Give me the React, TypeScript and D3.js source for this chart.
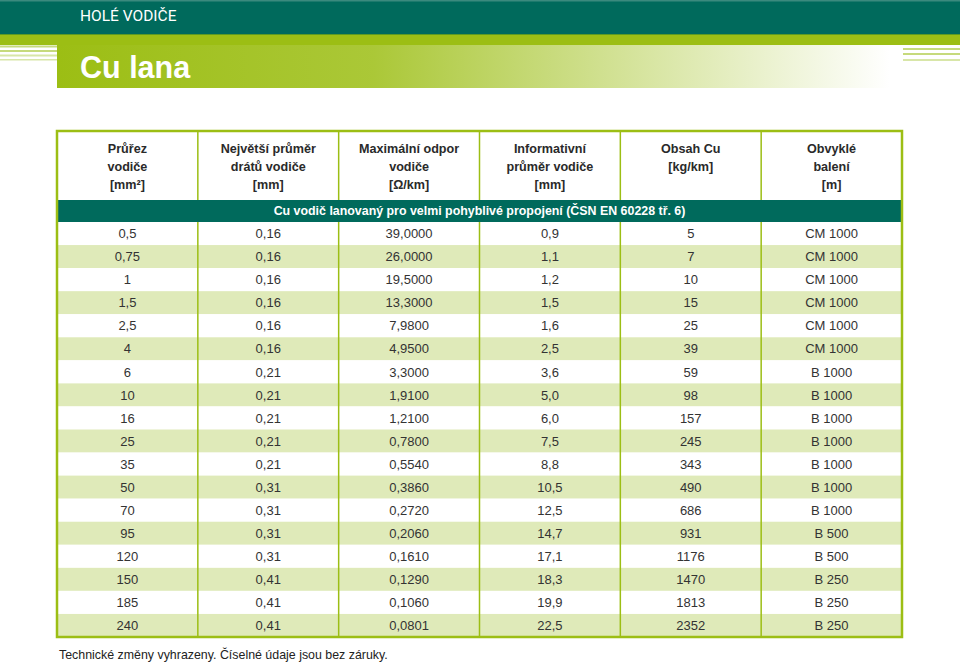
import React from "react";
import * as d3 from "d3";

const cross = ["0,5","0,75","1","1,5","2,5","4","6","10","16","25","35","50","70","95","120","150","185","240"];
const wire = ["0,16","0,16","0,16","0,16","0,16","0,16","0,21","0,21","0,21","0,21","0,21","0,31","0,31","0,31","0,31","0,41","0,41","0,41"];
const resist = ["39,0000","26,0000","19,5000","13,3000","7,9800","4,9500","3,3000","1,9100","1,2100","0,7800","0,5540","0,3860","0,2720","0,2060","0,1610","0,1290","0,1060","0,0801"];
const diam = ["0,9","1,1","1,2","1,5","1,6","2,5","3,6","5,0","6,0","7,5","8,8","10,5","12,5","14,7","17,1","18,3","19,9","22,5"];
const cu = ["5","7","10","15","25","39","59","98","157","245","343","490","686","931","1176","1470","1813","2352"];
const pack = ["CM 1000","CM 1000","CM 1000","CM 1000","CM 1000","CM 1000","B 1000","B 1000","B 1000","B 1000","B 1000","B 1000","B 1000","B 500","B 500","B 250","B 250","B 250"];

const headers: string[][] = [
  ["Průřez", "vodiče", "[mm²]"],
  ["Největší průměr", "drátů vodiče", "[mm]"],
  ["Maximální odpor", "vodiče", "[Ω/km]"],
  ["Informativní", "průměr vodiče", "[mm]"],
  ["Obsah Cu", "[kg/km]"],
  ["Obvyklé", "balení", "[m]"],
];
const sectionTitle = "Cu vodič lanovaný pro velmi pohyblivé propojení (ČSN EN 60228 tř. 6)";
const topLabel = "HOLÉ VODIČE";
const title = "Cu lana";
const footnote = "Technické změny vyhrazeny. Číselné údaje jsou bez záruky.";

const TEAL = "#006a5c";
const GREEN = "#9cbe14";
const LIGHT = "#dfeab9";
const FONT = "'Liberation Sans', Arial, sans-serif";

export default function App() {
  const columns = [cross, wire, resist, diam, cu, pack];
  const colIdx = d3.range(columns.length);
  const rowIdx = d3.range(cross.length);
  const left = 57, right = 902, top = 131, headBottom = 200, bandBottom = 222, bottom = 637;
  const x = d3.scaleBand<number>().domain(colIdx).range([left, right]);
  const y = d3.scaleBand<number>().domain(rowIdx).range([bandBottom, bottom]);

  return (
    <svg width={960} height={663} style={{ position: "absolute", left: 0, top: 0, fontFamily: FONT }}>
      <defs>
        <linearGradient id="fade" x1="57" x2="890" y1="0" y2="0" gradientUnits="userSpaceOnUse">
          <stop offset="0" stopColor={GREEN} />
          <stop offset="0.38" stopColor={GREEN} stopOpacity={0.85} />
          <stop offset="1" stopColor={GREEN} stopOpacity={0} />
        </linearGradient>
      </defs>
      <rect x={0} y={0} width={960} height={663} fill="#fff" />
      {/* top bands */}
      <rect x={0} y={0} width={960} height={34} fill={TEAL} />
      <rect x={0} y={0} width={960} height={1.5} fill="#3b8a7e" />
      <rect x={0} y={34} width={960} height={1} fill="#5d9a22" />
      <rect x={0} y={35} width={960} height={10} fill={GREEN} />
      <rect x={57} y={45} width={833} height={43} fill="url(#fade)" />
      {[45.5, 50, 54.5, 59].map((yy, i) => (
        <rect key={"l" + i} x={0} y={yy} width={57} height={i === 3 ? 1.5 : 2} fill={i < 2 ? "#c6da7c" : "#d8e6a8"} />
      ))}
      {[48, 53, 59].map((yy, i) => (
        <rect key={"r" + i} x={903} y={yy} width={57} height={2} fill={i < 2 ? "#c6da7c" : "#d8e6a8"} />
      ))}
      <text x={80} y={21} fill="#fff" fontSize={15.5} fontFamily="Roboto, sans-serif">{topLabel}</text>
      <text x={80} y={78} fill="#fff" fontSize={30.5} fontWeight="bold" fontFamily={FONT}>{title}</text>

      {/* table rows background */}
      {rowIdx.map((r) => (
        <rect key={"bg" + r} x={left} y={y(r)!} width={right - left} height={y.bandwidth()} fill={r % 2 === 1 ? LIGHT : "#fff"} />
      ))}
      {/* section band */}
      <rect x={left} y={headBottom} width={right - left} height={bandBottom - headBottom} fill={TEAL} />
      <text x={(left + right) / 2} y={(headBottom + bandBottom) / 2} dy="0.35em" textAnchor="middle" fill="#fff" fontSize={12.4} fontWeight="bold">{sectionTitle}</text>

      {/* headers */}
      {headers.map((lines, c) => (
        <text key={"h" + c} x={x(c)! + x.bandwidth() / 2} textAnchor="middle" fill="#2a2a2a" fontSize={12.6} fontWeight="bold">
          {lines.map((ln, i) => (
            <tspan key={i} x={x(c)! + x.bandwidth() / 2} y={153 + i * 18}>{ln}</tspan>
          ))}
        </text>
      ))}

      {/* cells */}
      {columns.map((col, c) =>
        col.map((v, r) => (
          <text key={c + "-" + r} x={x(c)! + x.bandwidth() / 2} y={y(r)! + y.bandwidth() / 2} dy="0.36em" textAnchor="middle" fill="#333" fontSize={13}>{v}</text>
        ))
      )}

      {/* vertical dividers */}
      {colIdx.slice(1).map((c) => (
        <g key={"v" + c}>
          <line x1={x(c)!} x2={x(c)!} y1={top} y2={headBottom} stroke={GREEN} strokeWidth={1.5} />
          <line x1={x(c)!} x2={x(c)!} y1={bandBottom} y2={bottom} stroke={GREEN} strokeWidth={1.5} />
        </g>
      ))}
      {/* outer border */}
      <rect x={left} y={top} width={right - left} height={bottom - top} fill="none" stroke={GREEN} strokeWidth={2.5} />

      <text x={59} y={659} fill="#222" fontSize={12.4}>{footnote}</text>
    </svg>
  );
}
